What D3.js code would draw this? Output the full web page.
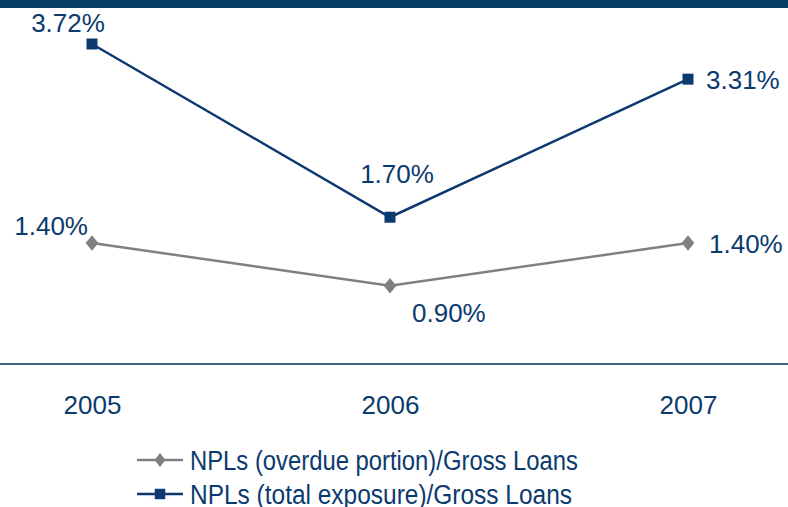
<!DOCTYPE html>
<html lang="en">
<head>
    <meta charset="utf-8">
    <title>NPL ratios</title>
    <script src="https://d3js.org/d3.v7.min.js"></script>
    <style>
        * { margin: 0; padding: 0; }
        body { width: 788px; height: 507px; background: white; overflow: hidden; }
        text { font-family: "Liberation Sans", Arial, sans-serif; fill: #0b3a6e; }
    </style>
</head>
<body>
<div id="container"></div>
<script>
    const years = ["2005", "2006", "2007"];
    const overdue = [1.40, 0.90, 1.40];
    const totalExposure = [3.72, 1.70, 3.31];
    const seriesNames = ["NPLs (overdue portion)/Gross Loans", "NPLs (total exposure)/Gross Loans"];

    const w = 788, h = 507;
    const navy = "#0b3a6e", grey = "#808080";

    const svg = d3.select("#container").append("svg")
        .attr("width", w)
        .attr("height", h);

    // top band
    svg.append("rect").attr("x", 0).attr("y", 0).attr("width", w).attr("height", 8).attr("fill", "#053f67");

    const xScale = d3.scalePoint().domain(years).range([92, 688]);
    const yScale = d3.scaleLinear().domain([0, 3.72]).range([363, 44]);

    // baseline
    svg.append("line")
        .attr("x1", 0).attr("x2", w)
        .attr("y1", 364).attr("y2", 364)
        .attr("stroke", "#41648c").attr("stroke-width", 2);

    const xAxis = d3.axisBottom(xScale).tickSize(0).tickPadding(0);
    const gx = svg.append("g").attr("transform", "translate(0, 396)").call(xAxis);
    gx.select(".domain").remove();
    gx.selectAll("text").style("font-size", "26px").style("font-family", "Liberation Sans, Arial, sans-serif").attr("fill", navy);

    const line = d3.line().x((d, i) => xScale(years[i])).y(d => yScale(d));

    svg.append("path").datum(overdue).attr("d", line)
        .attr("fill", "none").attr("stroke", grey).attr("stroke-width", 2.5);
    svg.append("path").datum(totalExposure).attr("d", line)
        .attr("fill", "none").attr("stroke", navy).attr("stroke-width", 2.5);

    const diamond = d3.symbol().type(d3.symbolSquare).size(100);
    svg.selectAll(".od").data(overdue).enter().append("path")
        .attr("d", diamond)
        .attr("transform", (d, i) => `translate(${xScale(years[i])}, ${yScale(d)}) scale(0.9, 1.1) rotate(45)`)
        .attr("fill", grey);
    svg.selectAll(".te").data(totalExposure).enter().append("path")
        .attr("d", d3.symbol().type(d3.symbolSquare).size(121))
        .attr("transform", (d, i) => `translate(${xScale(years[i])}, ${yScale(d)})`)
        .attr("fill", navy);

    // value labels: [dx, dy, anchor]
    const fmt = v => v.toFixed(2) + "%";
    const odPos = [[-4, -8, "end"], [22, 36, "start"], [21, 10, "start"]];
    const tePos = [[-24, -12, "middle"], [7, -34, "middle"], [18, 10, "start"]];

    svg.selectAll(".odl").data(overdue).enter().append("text")
        .attr("x", (d, i) => xScale(years[i]) + odPos[i][0])
        .attr("y", (d, i) => yScale(d) + odPos[i][1])
        .attr("text-anchor", (d, i) => odPos[i][2])
        .style("font-size", "26px")
        .text(fmt);
    svg.selectAll(".tel").data(totalExposure).enter().append("text")
        .attr("x", (d, i) => xScale(years[i]) + tePos[i][0])
        .attr("y", (d, i) => yScale(d) + tePos[i][1])
        .attr("text-anchor", (d, i) => tePos[i][2])
        .style("font-size", "26px")
        .text(fmt);

    // legend
    const legend = svg.append("g").attr("transform", "translate(137, 460)");
    const items = [
        { name: seriesNames[0], color: grey, sym: "diamond", len: 388 },
        { name: seriesNames[1], color: navy, sym: "square", len: 382 }
    ];
    items.forEach((it, i) => {
        const g = legend.append("g").attr("transform", `translate(0, ${i * 34})`);
        g.append("line").attr("x1", 0).attr("x2", 46).attr("y1", 0).attr("y2", 0)
            .attr("stroke", it.color).attr("stroke-width", 2.5);
        g.append("path")
            .attr("d", d3.symbol().type(d3.symbolSquare).size(it.sym === "diamond" ? 80 : 110))
            .attr("transform", `translate(23, 0) ${it.sym === "diamond" ? "scale(0.85, 1.1) rotate(45)" : ""}`)
            .attr("fill", it.color);
        g.append("text").attr("x", 53).attr("y", 10)
            .style("font-size", "27px")
            .attr("textLength", it.len)
            .attr("lengthAdjust", "spacingAndGlyphs")
            .text(it.name);
    });
</script>
</body>
</html>
